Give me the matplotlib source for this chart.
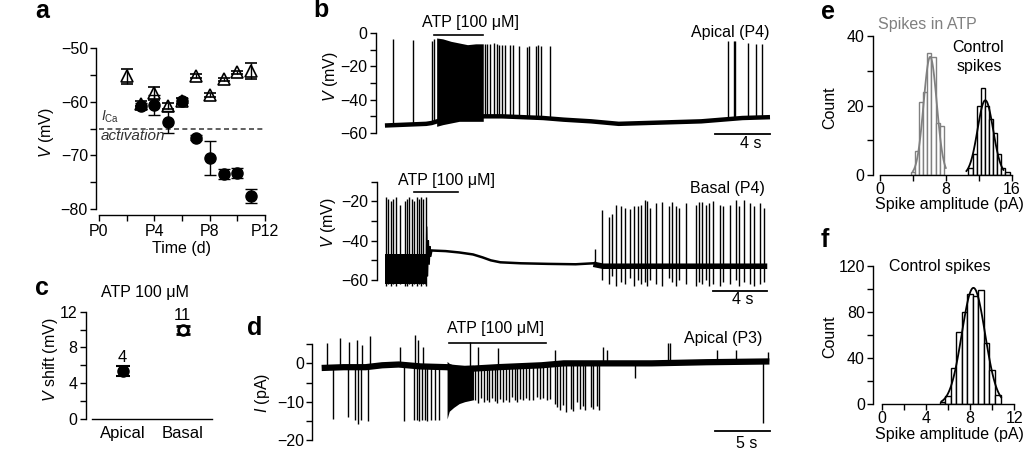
import numpy as np
import matplotlib
matplotlib.use('Agg')
import matplotlib.pyplot as plt
from matplotlib.ticker import MultipleLocator

plt.rcParams['font.family'] = ['Liberation Sans', 'DejaVu Sans']
plt.rcParams['mathtext.fontset'] = 'custom'
plt.rcParams['mathtext.rm'] = 'Liberation Sans'
plt.rcParams['mathtext.it'] = 'Liberation Sans:italic'
plt.rcParams['font.size'] = 11.5
plt.rcParams['axes.linewidth'] = 1.0

W, H = 1024, 458

# ---------------- panel a: resting potential vs age ----------------
days_tri = [2, 3, 4, 5, 6, 7, 8, 9, 10, 11]
v_tri = [-55.3, -60.4, -58.4, -60.8, -59.9, -55.2, -58.8, -55.8, -54.5, -54.3]
err_tri = [1.4, 0.5, 1.2, 0.5, 0.5, 0.3, 0.4, 0.3, 0.3, 1.5]
days_cir = [3, 4, 5, 6, 7, 8, 9, 10, 11]
v_cir = [-60.8, -60.6, -63.8, -59.8, -66.7, -70.5, -73.5, -73.3, -77.5]
err_cir = [0.5, 1.8, 2.0, 0.5, 0.4, 3.2, 1.0, 0.9, 1.3]
ica_threshold = -65

# ---------------- panel c: ATP shift ----------------
c_groups = ['Apical', 'Basal']
c_shift = [5.37, 9.95]
c_err = [0.6, 0.4]
c_n = ['4', '11']

# ---------------- panel b top: Apical (P4) ----------------
bt_base_t = [0, 1.5, 3.0, 3.4, 3.8, 4.5, 5.5, 7.0, 8.5, 10.0, 11.5, 13.0, 15.0, 17.0, 19.0, 21.0, 23.0, 24.5, 26.0, 28.0]
bt_base_v = [-55.5, -55.0, -54.5, -54.0, -53.0, -51.5, -50.5, -50.0, -50.0, -50.5, -51.0, -52.0, -53.0, -54.5, -54.0, -53.5, -53.0, -52.0, -51.0, -50.5]
bt_burst_t = [3.76, 4.2, 4.8, 5.4, 6.0, 6.6, 7.15]
bt_burst_top = [-3.0, -3.5, -5.0, -6.0, -7.0, -6.5, -6.5]
bt_burst_bot = [-56.0, -55.0, -54.0, -53.0, -53.0, -53.0, -53.0]
bt_spike_t = [0.56, 2.06, 3.39, 3.56, 7.27, 7.44, 7.64, 7.93, 8.12, 8.31, 8.49, 8.73, 9.09, 9.29,
              9.75, 10.3, 10.5, 10.96, 11.15, 11.35, 12.0, 24.97, 25.38, 25.48, 26.4, 27.0, 27.45]
bt_spike_v = [-3.5, -4.0, -5.0, -3.5, -6.5, -6.5, -6.5, -6.0, -6.5, -7.0, -7.0, -7.0, -7.5, -7.5,
              -8.0, -8.5, -8.0, -8.0, -7.5, -8.0, -8.0, -5.0, -5.0, -5.0, -6.0, -6.5, -6.5]
bt_atp = (3.56, 7.15)

# ---------------- panel b bottom: Basal (P4) ----------------
bb_burst_band_t = [0.1, 3.05]
bb_burst_band = (-62.0, -47.0)
bb_early_t = [0.12, 0.27, 0.49, 0.68, 0.88, 1.17, 1.53, 1.70, 1.85, 2.02, 2.21, 2.39, 2.55, 2.70, 2.87, 3.07]
bb_early_peak = [-18, -19, -20, -19, -18, -22, -20, -19, -18, -19, -20, -18, -19, -18, -19, -18]
bb_early_trough = [-63, -62, -63, -62, -63, -62, -63, -63, -62, -63, -62, -63, -62, -63, -62, -63]
bb_osc_t = [3.07, 3.12, 3.18, 3.24, 3.30, 3.36, 3.42, 3.50]
bb_osc_v = [-62, -33, -58, -40, -52, -43, -48, -45]
bb_post_t = [3.5, 4.5, 5.5, 6.5, 7.2, 7.8, 8.5, 10.0, 12.0, 14.0, 15.3]
bb_post_v = [-45.0, -45.3, -46.0, -47.0, -48.5, -50.0, -51.0, -51.5, -51.8, -52.0, -51.5]
bb_late_base_t = [15.3, 16.0, 18.0, 20.0, 22.0, 24.0, 26.0, 28.0]
bb_late_base_v = [-52.0, -53.0, -53.0, -53.0, -53.0, -53.0, -53.0, -53.0]
bb_late_t = [15.4, 15.89, 16.42, 16.62, 16.93, 17.30, 17.64, 18.0, 18.25, 18.56, 18.76, 19.1, 19.22, 19.42,
             19.85, 20.32, 20.83, 21.07, 21.36, 21.53, 22.04, 22.77, 23.02, 23.26, 23.5, 23.75,
             24.04, 24.57, 24.77, 25.31, 25.74, 25.94, 26.28, 26.72, 27.03, 27.45, 27.74]
bb_late_peak = [-44, -24.2, -27.9, -26.3, -21.7, -22.2, -23.4, -23.9, -22.2, -22.2, -21.7, -19.1, -20.0, -23.4,
                -20.8, -20.5, -22.2, -20.5, -22.2, -23.4, -21.0, -21.7, -20.5, -20.5, -21.7, -20.8,
                -20.0, -21.7, -22.5, -21.7, -19.5, -22.5, -19.5, -20.8, -22.5, -20.8, -23.4]
bb_late_trough = [-53, -60, -62, -58, -63, -61, -62, -59, -63, -60, -62, -61, -63, -60,
                  -62, -63, -59, -61, -63, -60, -62, -63, -61, -62, -60, -63,
                  -62, -63, -61, -62, -60, -63, -61, -62, -63, -62, -61]
bb_atp = (2.2, 5.4)

# ---------------- panel d: Apical (P3) current ----------------
d_base_t = [0, 2, 4, 5.5, 7, 9, 11.4, 13.0, 16.0, 20.0, 22.0, 26.0, 30.0, 35.0, 40.7]
d_base_v = [-1.2, -1.0, -1.0, -0.5, -0.3, -0.8, -1.0, -1.5, -1.0, -0.5, 0.0, 0.0, 0.0, 0.3, 0.5]
d_block_t = [11.4, 11.6, 12.0, 12.5, 13.0, 13.8]
d_block_lo = [-14.5, -12.5, -11.5, -10.5, -10.0, -9.5]
d_block_hi = [0.5, 0.0, -0.5, -0.5, -0.5, -0.5]
d_down_t = [1.06, 2.42, 3.03, 3.33, 3.54, 4.24, 7.48, 8.39, 8.64, 8.87, 9.15, 9.39, 9.6, 9.9, 10.3, 10.66,
            13.94, 14.24, 14.45, 14.75, 15.0, 15.24, 15.45, 15.75, 15.96, 16.2, 16.5, 16.75, 17.05, 17.27,
            17.57, 17.78, 18.03, 18.3, 18.57, 18.85, 19.18, 19.55, 19.85, 20.15, 20.45, 20.75,
            21.2, 21.42, 21.66, 21.96, 22.21, 22.63, 22.87, 23.18, 23.48, 23.72, 23.94, 24.45, 24.69,
            25.0, 25.24, 28.5, 40.1]
d_down_v = [-14.4, -13.9, -14.7, -15.7, -14.7, -15.1, -15.1, -14.9, -14.9, -15.1, -14.7, -14.9, -15.1, -14.7, -14.9, -14.7,
            -9.5, -10.4, -9.0, -10.0, -9.5, -10.2, -9.0, -9.8, -10.4, -9.2, -10.0, -9.5, -10.2, -8.8,
            -9.6, -10.0, -9.2, -9.6, -9.0, -9.5, -9.6, -8.8, -9.4, -9.0, -9.6, -9.2,
            -10.5, -11.5, -12.2, -10.8, -12.6, -11.8, -12.4, -10.2, -12.0, -11.0, -12.3, -11.5, -12.0,
            -11.2, -12.2, -3.8, -15.6]
d_up_t = [0.45, 1.66, 2.5, 3.24, 3.64, 4.39, 7.12, 8.48, 8.78, 9.24, 13.5, 14.2, 16.0,
          21.2, 25.6, 25.9, 31.45, 31.7, 35.9, 37.7, 40.6]
d_up_v = [5.2, 6.5, 5.6, 6.1, 4.8, 7.2, 4.3, 7.4, 6.1, 4.3, 5.6, 4.3, 4.0,
          3.5, 4.3, 3.5, 5.2, 5.2, 3.5, 3.5, 3.0]
d_atp = (11.6, 20.4)

# ---------------- panels e, f: amplitude histograms ----------------
e_atp_centers = [4.0, 4.5, 5.0, 5.5, 6.0, 6.5, 7.0, 7.5]
e_atp_counts = [1, 7, 21, 24, 35, 34, 15, 14]
e_atp_fit = (6.1, 0.8, 34.0, 4.0, 8.0)        # mean, sd, peak, from, to
e_ctl_centers = [11.0, 11.5, 12.0, 12.5, 13.0, 13.5, 14.0, 14.5, 15.0, 15.5]
e_ctl_counts = [2, 6, 20, 25, 20, 16, 12, 6, 2, 1]
e_ctl_fit = (12.8, 0.95, 21.5, 10.5, 15.0)
f_centers = [5.5, 6.0, 6.5, 7.0, 7.5, 8.0, 8.5, 9.0, 9.5, 10.0, 10.5]
f_counts = [2, 7, 31, 63, 80, 96, 94, 99, 53, 30, 8]
f_fit = (8.3, 1.05, 101.0, 5.4, 10.8)

GRAY = '#808080'


def px_axes(fig, x0, y0, x1, y1):
    return fig.add_axes([x0 / W, 1 - y1 / H, (x1 - x0) / W, (y1 - y0) / H])


def ftext(fig, x, y, s, **kw):
    kw.setdefault('ha', 'center')
    kw.setdefault('va', 'center')
    fig.text(x / W, 1 - y / H, s, **kw)


def style(ax):
    for s in ['top', 'right']:
        ax.spines[s].set_visible(False)
    ax.tick_params(which='both', direction='out', length=4, width=1.0, pad=2)


def trace_axes(ax):
    style(ax)
    ax.spines['bottom'].set_visible(False)
    ax.set_xticks([])


def fit_curve(ax, fit, color):
    mu, sd, amp, lo, hi = fit
    x = np.linspace(lo, hi, 120)
    ax.plot(x, amp * np.exp(-0.5 * ((x - mu) / sd) ** 2), color=color, lw=1.3)


fig = plt.figure(figsize=(W / 100, H / 100), dpi=100)

# ---- a ----
ax = px_axes(fig, 99, 48, 265, 209)
style(ax)
ax.spines['left'].set_position(('outward', 2))
ax.spines['bottom'].set_position(('outward', 4.5))
ax.set_xlim(0, 12)
ax.set_ylim(-80, -50)
ax.xaxis.set_minor_locator(MultipleLocator(2))
ax.yaxis.set_major_locator(MultipleLocator(10))
ax.yaxis.set_minor_locator(MultipleLocator(5))
ax.set_xticks([0, 4, 8, 12])
ax.set_xticklabels(['P0', 'P4', 'P8', 'P12'])
ax.axhline(ica_threshold, color='#444444', lw=1.2, ls=(0, (3, 2)))
ax.errorbar(days_cir, v_cir, yerr=err_cir, fmt='o', color='k', ms=8, capsize=4, elinewidth=1, capthick=1,
            clip_on=False, zorder=3)
ax.errorbar(days_tri, v_tri, yerr=err_tri, fmt='^', mfc='none', mec='k', mew=1.2, ecolor='k', ms=9,
            capsize=4, elinewidth=1, capthick=1, clip_on=False, zorder=4)
ax.text(0.15, -62.9, r'$I_{\rm Ca}$', fontsize=10, ha='left', va='center', color='#333333')
ax.text(0.15, -66.4, 'activation', fontsize=11, style='italic', ha='left', va='center', color='#333333')
ftext(fig, 47, 133, r'$V$ (mV)', rotation=90)
ftext(fig, 182, 248, 'Time (d)')

# ---- c ----
ax = px_axes(fig, 86, 311.7, 212, 419)
style(ax)
ax.set_xlim(-0.612, 1.488)
ax.set_ylim(0, 12)
ax.spines['bottom'].set_bounds(-0.52, 1.48)
ax.yaxis.set_major_locator(MultipleLocator(4))
ax.yaxis.set_minor_locator(MultipleLocator(2))
ax.set_xticks([0, 1])
ax.set_xticklabels(c_groups, fontsize=12)
ax.tick_params(axis='x', length=0, pad=5)
ax.errorbar([0], [c_shift[0]], yerr=[c_err[0]], fmt='o', color='k', ms=8, capsize=5, elinewidth=1.2,
            capthick=1.5, zorder=3)
ax.errorbar([1], [c_shift[1]], yerr=[c_err[1]], fmt='o', mfc='white', mec='k', mew=2, ecolor='k', ms=7,
            capsize=5, elinewidth=1.2, capthick=1.5, zorder=3)
ax.text(0, 6.9, c_n[0], ha='center', va='center', fontsize=12)
ax.text(1, 11.6, c_n[1], ha='center', va='center', fontsize=12)
ftext(fig, 145, 293, 'ATP 100 \u03bcM')
ftext(fig, 50, 360, r'$V$ shift (mV)', rotation=90)

# ---- b top ----
ax = px_axes(fig, 376, 33, 772.75, 133)
trace_axes(ax)
ax.set_xlim(-0.65, 28.2)
ax.set_ylim(-60, 0)
ax.yaxis.set_major_locator(MultipleLocator(20))
ax.yaxis.set_minor_locator(MultipleLocator(10))
ax.plot(bt_base_t, bt_base_v, color='k', lw=3.2, solid_joinstyle='round', solid_capstyle='butt', clip_on=False)
ax.fill_between(bt_burst_t, bt_burst_bot, bt_burst_top, color='k', lw=0, clip_on=False)
ax.vlines(bt_spike_t, np.interp(bt_spike_t, bt_base_t, bt_base_v), bt_spike_v, color='k', lw=1.0, clip_on=False)
ax.plot(bt_atp, [-1, -1], color='k', lw=1.2, clip_on=False)
ax.text(bt_atp[0] - 0.9, 6, 'ATP [100 \u03bcM]', ha='left', va='center')
ax.text(28, 0, 'Apical (P4)', ha='right', va='center')
ax.plot([24, 28], [-60.8, -60.8], color='k', lw=1.3, clip_on=False)
ax.text(26.6, -66.6, '4 s', ha='center', va='center')
ftext(fig, 331, 77, r'$V$ (mV)', rotation=90)

# ---- b bottom ----
ax = px_axes(fig, 376.5, 181.7, 770, 280)
trace_axes(ax)
ax.set_xlim(-0.55, 28.2)
ax.set_ylim(-60, -10)
ax.yaxis.set_major_locator(MultipleLocator(20))
ax.yaxis.set_minor_locator(MultipleLocator(10))
ax.fill_between(bb_burst_band_t, bb_burst_band[0], bb_burst_band[1], color='k', lw=0, clip_on=False)
ax.vlines(bb_early_t, bb_early_trough, bb_early_peak, color='k', lw=1.0, clip_on=False)
ax.plot(bb_osc_t, bb_osc_v, color='k', lw=1.0, clip_on=False)
ax.plot(bb_post_t, bb_post_v, color='k', lw=1.8, solid_joinstyle='round', clip_on=False)
ax.plot(bb_late_base_t, bb_late_base_v, color='k', lw=4.0, solid_capstyle='butt', clip_on=False)
ax.vlines(bb_late_t, bb_late_trough, bb_late_peak, color='k', lw=1.0, clip_on=False)
ax.plot(bb_atp, [-15.1, -15.1], color='k', lw=1.2, clip_on=False)
ax.text(1.04, -9.3, 'ATP [100 \u03bcM]', ha='left', va='center')
ax.text(27.8, -13.5, 'Basal (P4)', ha='right', va='center')
ax.plot([24, 28], [-65.4, -65.4], color='k', lw=1.3, clip_on=False)
ax.text(26.2, -70, '4 s', ha='center', va='center')
ftext(fig, 329, 223, r'$V$ (mV)', rotation=90)

# ---- d ----
ax = px_axes(fig, 312.3, 344.2, 772.7, 440)
trace_axes(ax)
ax.set_xlim(-0.85, 41)
ax.set_ylim(-20, 5)
ax.yaxis.set_major_locator(MultipleLocator(10))
ax.yaxis.set_minor_locator(MultipleLocator(5))
ax.plot(d_base_t, d_base_v, color='k', lw=4.5, solid_joinstyle='round', solid_capstyle='butt', clip_on=False)
ax.fill_between(d_block_t, d_block_lo, d_block_hi, color='k', lw=0, clip_on=False)
ax.vlines(d_down_t, np.interp(d_down_t, d_base_t, d_base_v), d_down_v, color='k', lw=1.0, clip_on=False)
ax.vlines(d_up_t, np.interp(d_up_t, d_base_t, d_base_v), d_up_v, color='k', lw=1.0, clip_on=False)
ax.plot(d_atp, [5.4, 5.4], color='k', lw=1.2, clip_on=False)
ax.text(11.36, 9.0, 'ATP [100 \u03bcM]', ha='left', va='center')
ax.text(40.1, 6.6, 'Apical (P3)', ha='right', va='center')
ax.plot([35.75, 40.75], [-17.7, -17.7], color='k', lw=1.3, clip_on=False)
ax.text(38.6, -20.9, '5 s', ha='center', va='center')
ftext(fig, 263, 393, r'$I$ (pA)', rotation=90)

# ---- e ----
ax = px_axes(fig, 872.7, 36, 1013.3, 175)
style(ax)
ax.tick_params(axis='x', which='both', pad=1)
ax.set_xlim(-0.89, 16.2)
ax.set_ylim(0, 40)
ax.spines['bottom'].set_bounds(0, 16)
ax.xaxis.set_major_locator(MultipleLocator(8))
ax.xaxis.set_minor_locator(MultipleLocator(4))
ax.yaxis.set_major_locator(MultipleLocator(20))
ax.yaxis.set_minor_locator(MultipleLocator(10))
ax.bar(e_atp_centers, e_atp_counts, width=0.5, facecolor='white', edgecolor=GRAY, lw=1.0)
ax.bar(e_ctl_centers, e_ctl_counts, width=0.5, facecolor='white', edgecolor='k', lw=1.0)
fit_curve(ax, e_atp_fit, GRAY)
fit_curve(ax, e_ctl_fit, 'k')
ftext(fig, 927, 24, 'Spikes in ATP', color=GRAY)
ftext(fig, 978, 47, 'Control')
ftext(fig, 979, 67, 'spikes')
ftext(fig, 830, 108, 'Count', rotation=90)
ftext(fig, 875, 205, 'Spike amplitude (pA)', ha='left')

# ---- f ----
ax = px_axes(fig, 873.3, 266, 1016, 404)
style(ax)
ax.tick_params(axis='x', which='both', pad=1)
ax.set_xlim(-0.76, 12.15)
ax.set_ylim(0, 120)
ax.spines['bottom'].set_bounds(0, 12)
ax.xaxis.set_major_locator(MultipleLocator(4))
ax.xaxis.set_minor_locator(MultipleLocator(2))
ax.yaxis.set_major_locator(MultipleLocator(40))
ax.yaxis.set_minor_locator(MultipleLocator(20))
ax.bar(f_centers, f_counts, width=0.5, facecolor='white', edgecolor='k', lw=1.0)
fit_curve(ax, f_fit, 'k')
ftext(fig, 940, 267, 'Control spikes')
ftext(fig, 830, 337, 'Count', rotation=90)
ftext(fig, 875, 434, 'Spike amplitude (pA)', ha='left')

# ---- panel letters ----
for lx, ly, lab in [(35, 18, 'a'), (313, 17, 'b'), (35, 295, 'c'), (247, 335, 'd'),
                    (821, 19, 'e'), (821, 247, 'f')]:
    fig.text(lx / W, 1 - ly / H, lab, fontsize=18, fontweight='bold', ha='left', va='baseline')

fig.savefig('out.png', dpi=100)
